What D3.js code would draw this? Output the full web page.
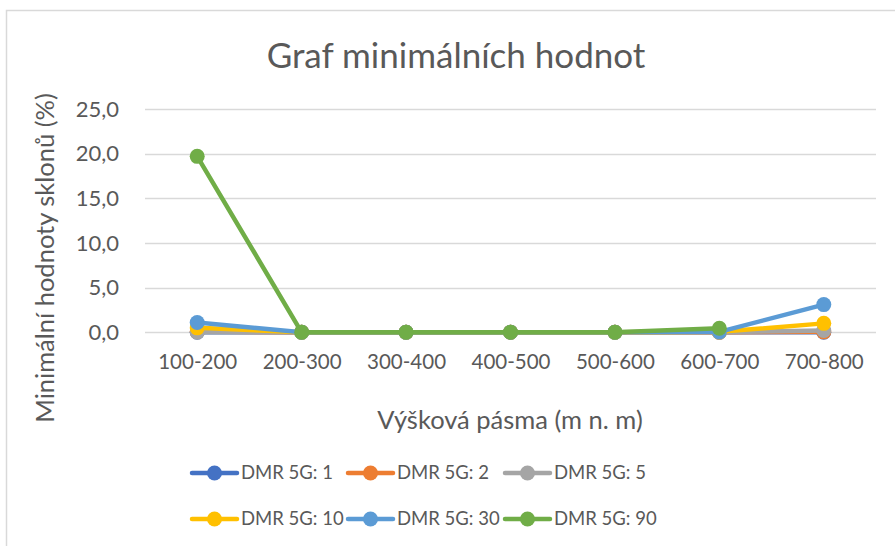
<!DOCTYPE html>
<html>
<head>
<meta charset="utf-8">
<script src="https://cdn.jsdelivr.net/npm/d3@7"></script>
<style>
  body { margin: 0; background: #fff; }
  svg { font-family: 'Lato', 'Open Sans', sans-serif; }
  .tick text { fill: #595959; }
</style>
</head>
<body>
<svg id="chart" width="895" height="546"></svg>
<script>
const categories = ['100-200', '200-300', '300-400', '400-500', '500-600', '600-700', '700-800'];
const seriesNames = ['DMR 5G: 1', 'DMR 5G: 2', 'DMR 5G: 5', 'DMR 5G: 10', 'DMR 5G: 30', 'DMR 5G: 90'];
const dmr1 = [0.0, 0.0, 0.0, 0.0, 0.0, 0.0, 0.0];
const dmr2 = [0.1, 0.0, 0.0, 0.0, 0.0, 0.0, 0.05];
const dmr5 = [0.0, 0.0, 0.0, 0.0, 0.0, 0.0, 0.2];
const dmr10 = [0.5, 0.0, 0.0, 0.0, 0.0, 0.05, 1.0];
const dmr30 = [1.1, 0.0, 0.0, 0.0, 0.0, 0.05, 3.1];
const dmr90 = [19.7, 0.0, 0.0, 0.0, 0.0, 0.45, null];
const yTicks = [0, 5, 10, 15, 20, 25];
const colors = ['#4472C4', '#ED7D31', '#A5A5A5', '#FFC000', '#5B9BD5', '#70AD47'];

const series = [dmr1, dmr2, dmr5, dmr10, dmr30, dmr90].map((vals, i) => ({
    name: seriesNames[i],
    color: colors[i],
    values: vals.map((v, j) => ({cat: categories[j], v: v}))
}));

const svg = d3.select('#chart');
const margin = {left: 145, right: 19, top: 109, bottom: 214};
const w = 895, h = 546;

// chart border (excel frame)
svg.append('path')
    .attr('d', `M6.5,${h} V10.5 H${w}`)
    .attr('fill', 'none')
    .attr('stroke', '#d9d9d9')
    .attr('stroke-width', 1.5);

const x = d3.scalePoint()
    .domain(categories)
    .range([margin.left, w - margin.right])
    .padding(0.5);
const y = d3.scaleLinear()
    .domain([0, 25])
    .range([332.3, margin.top]);

const fmt = d => d3.format('.1f')(d).replace('.', ',');

// grid
svg.append('g')
    .selectAll('line')
    .data(yTicks)
    .join('line')
    .attr('x1', margin.left)
    .attr('x2', w - margin.right)
    .attr('y1', d => Math.round(y(d)) + 0.5)
    .attr('y2', d => Math.round(y(d)) + 0.5)
    .attr('stroke', '#d9d9d9')
    .attr('stroke-width', 1.3);

const yAxis = svg.append('g')
    .attr('transform', `translate(${margin.left - 23},0)`)
    .call(d3.axisLeft(y).tickValues(yTicks).tickFormat(fmt).tickSize(0));
yAxis.select('.domain').remove();
yAxis.selectAll('text').attr('font-size', 22).attr('font-family', 'Lato').attr('dx', 0);

const xAxis = svg.append('g')
    .attr('transform', `translate(0,351)`)
    .call(d3.axisBottom(x).tickSize(0));
xAxis.select('.domain').remove();
xAxis.selectAll('text').attr('font-size', 20.5).attr('font-family', 'Lato');

// lines
const line = d3.line()
    .defined(d => d.v !== null)
    .x(d => x(d.cat))
    .y(d => y(d.v));

const sg = svg.append('g').selectAll('g')
    .data(series)
    .join('g');
sg.append('path')
    .attr('d', d => line(d.values))
    .attr('fill', 'none')
    .attr('stroke', d => d.color)
    .attr('stroke-width', 4.5)
    .attr('stroke-linejoin', 'round')
    .attr('stroke-linecap', 'round');
sg.selectAll('circle')
    .data(d => d.values.filter(p => p.v !== null).map(p => ({...p, color: d.color})))
    .join('circle')
    .attr('cx', d => x(d.cat))
    .attr('cy', d => y(d.v))
    .attr('r', 7.5)
    .attr('fill', d => d.color);

// title and axis titles
svg.append('text')
    .attr('x', 456).attr('y', 68)
    .attr('text-anchor', 'middle')
    .attr('font-size', 35)
    .attr('fill', '#595959')
    .text('Graf minimálních hodnot');

svg.append('text')
    .attr('transform', 'translate(54,258) rotate(-90)')
    .attr('text-anchor', 'middle')
    .attr('font-size', 25.5)
    .attr('fill', '#595959')
    .text('Minimální hodnoty sklonů (%)');

svg.append('text')
    .attr('x', 510).attr('y', 429)
    .attr('text-anchor', 'middle')
    .attr('font-size', 25.5)
    .attr('fill', '#595959')
    .text('Výšková pásma (m n. m)');

// legend
const legX = [190, 346, 503];
const legY = [473, 519];
const leg = svg.append('g').selectAll('g')
    .data(series)
    .join('g')
    .attr('transform', (d, i) => `translate(${legX[i % 3]},${legY[Math.floor(i / 3)]})`);
leg.append('line')
    .attr('x1', 2).attr('x2', 47)
    .attr('stroke', d => d.color)
    .attr('stroke-width', 4.5)
    .attr('stroke-linecap', 'round');
leg.append('circle')
    .attr('cx', 24.5).attr('r', 7.5)
    .attr('fill', d => d.color);
leg.append('text')
    .attr('x', 51).attr('dy', '0.35em')
    .attr('font-size', 18.5)
    .attr('fill', '#595959')
    .text(d => d.name);
</script>
</body>
</html>
